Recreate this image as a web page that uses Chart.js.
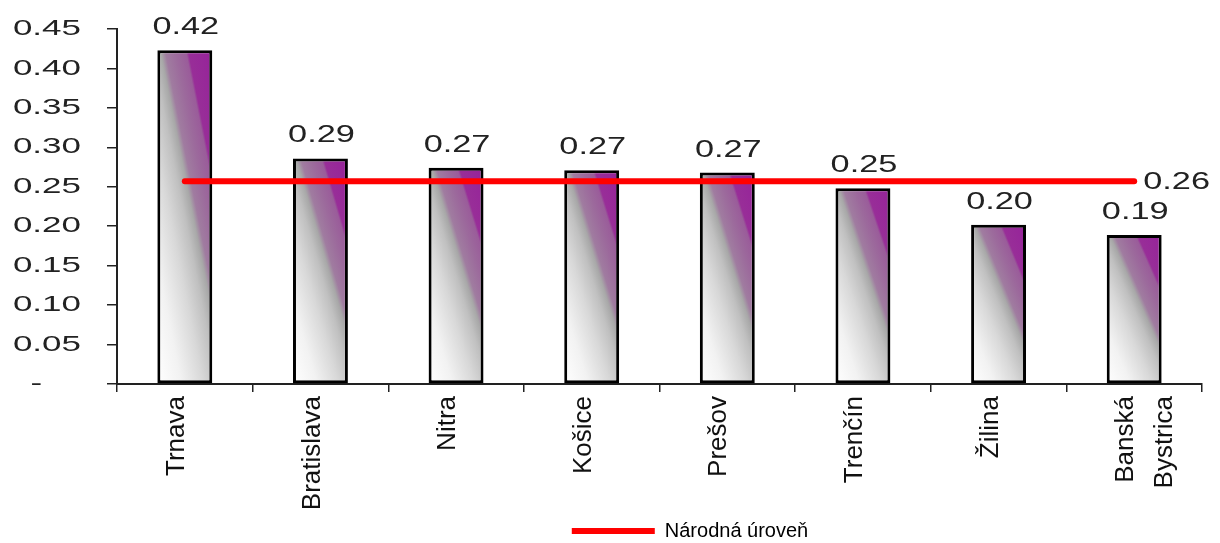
<!DOCTYPE html>
<html lang="sk">
<head>
  <meta charset="UTF-8">
  <title>Kraje a národná úroveň</title>
  <script src="https://cdn.jsdelivr.net/npm/chart.js"></script>
  <style>
    html, body {
      margin: 0;
      padding: 0;
      background: #fff;
    }
    .chart-box {
      width: 1220px;
      height: 543px;
    }
  </style>
</head>
<body>
  <div class="chart-box">
    <canvas id="regionChart" width="1220" height="543"></canvas>
  </div>

  <script>
    // data
    const regions = ['Trnava', 'Bratislava', 'Nitra', 'Košice', 'Prešov', 'Trenčín', 'Žilina', ['Banská', 'Bystrica']];
    const regionValues = [0.423, 0.286, 0.274, 0.271, 0.268, 0.248, 0.202, 0.189];
    const nationalValues = [0.257, 0.257, 0.257, 0.257, 0.257, 0.257, 0.257, 0.257];
    const nationalLabel = 'Národná úroveň';
    const yTickLabels = ['-', '0.05', '0.10', '0.15', '0.20', '0.25', '0.30', '0.35', '0.40', '0.45'];

    const FONT = '"Liberation Sans", Arial, sans-serif';
    const barPct = 0.405;
    const yTickLen = 10;
    const yTickPad = 26;

    // diagonal white -> grey -> purple fill, like the old office gradient
    function barFill(c) {
      const chart = c.chart;
      const xs = chart.scales.x;
      const ys = chart.scales.y;
      if (!chart.chartArea || !xs || !ys || c.dataIndex === undefined) return '#c0c0c0';
      const cx = xs.getPixelForValue(c.dataIndex);
      const w = (xs.width / regions.length) * barPct;
      const top = ys.getPixelForValue(regionValues[c.dataIndex]);
      const base = ys.getPixelForValue(0);
      const h = Math.max(base - top, 1);
      const cy = (top + base) / 2;
      const k = 1.2;
      const ax = 1 / (w * (1 + k));
      const ay = -k / (h * (1 + k));
      const n = ax * ax + ay * ay;
      const vx = ax / n, vy = ay / n;
      const g = chart.ctx.createLinearGradient(cx - vx / 2, cy - vy / 2, cx + vx / 2, cy + vy / 2);
      g.addColorStop(0, '#ffffff');
      g.addColorStop(0.2, '#f2f2f2');
      g.addColorStop(0.38, '#d8d8d8');
      g.addColorStop(0.5, '#c0c0c0');
      g.addColorStop(0.57, '#a8a8a8');
      g.addColorStop(0.61, '#a07ca0');
      g.addColorStop(0.7, '#9c6a9c');
      g.addColorStop(0.78, '#9a5c9a');
      g.addColorStop(0.8, '#982e98');
      g.addColorStop(1, '#96229a');
      return g;
    }

    // text drawn wide, as in the original picture
    function wideText(ctx, text, x, y, sx) {
      ctx.save();
      ctx.translate(x, y);
      ctx.scale(sx, 1);
      ctx.fillText(text, 0, 0);
      ctx.restore();
    }

    // numbers above the bars + value at the end of the red line
    const valueLabels = {
      id: 'valueLabels',
      afterDatasetsDraw(chart) {
        const ctx = chart.ctx;
        ctx.save();
        ctx.font = '24px ' + FONT;
        ctx.fillStyle = '#222';
        ctx.textAlign = 'center';
        ctx.textBaseline = 'alphabetic';
        chart.getDatasetMeta(1).data.forEach((bar, i) => {
          wideText(ctx, regionValues[i].toFixed(2), bar.x + 1, bar.y - 16, 1.43);
        });
        const pts = chart.getDatasetMeta(0).data;
        const last = pts[pts.length - 1];
        ctx.textAlign = 'left';
        ctx.textBaseline = 'middle';
        wideText(ctx, nationalValues[nationalValues.length - 1].toFixed(2), last.x + 9, last.y + 1, 1.43);
        ctx.restore();

        // the y tick labels are drawn in the next layer: stretch them around their right edge
        const ys = chart.scales.y;
        const anchor = ys.right - yTickLen - yTickPad;
        ctx.save();
        ctx.translate(anchor, 0);
        ctx.scale(1.59, 1);
        ctx.translate(-anchor, 0);
      },
      afterDraw(chart) {
        chart.ctx.restore();
      }
    };

    // legend sits right of centre in the original
    const legendShift = {
      id: 'legendShift',
      afterLayout(chart) {
        const l = chart.legend;
        if (!l) return;
        l.left += 89;
        l.right += 89;
        l.top += 8;
        l.bottom += 8;
      }
    };

    const config = {
      type: 'bar',
      data: {
        labels: regions,
        datasets: [
          {
            type: 'line',
            label: nationalLabel,
            data: nationalValues,
            borderColor: '#ff0000',
            backgroundColor: '#ff0000',
            borderWidth: 6,
            borderCapStyle: 'round',
            pointRadius: 0,
            fill: false,
            order: 0
          },
          {
            label: 'Kraje',
            data: regionValues,
            backgroundColor: barFill,
            borderColor: '#000',
            borderWidth: 3,
            borderSkipped: false,
            barPercentage: barPct,
            categoryPercentage: 1,
            order: 1
          }
        ]
      },
      options: {
        responsive: false,
        animation: false,
        layout: {
          padding: { top: 29, right: 18, bottom: 0, left: 0 }
        },
        plugins: {
          tooltip: { enabled: false },
          legend: {
            position: 'bottom',
            labels: {
              boxWidth: 83,
              boxHeight: 6,
              padding: 1,
              color: '#000',
              font: { family: FONT, size: 20 },
              filter: (item) => item.text === nationalLabel,
              generateLabels: (chart) =>
                Chart.defaults.plugins.legend.labels.generateLabels(chart)
                  .map(item => Object.assign(item, { lineWidth: 0 }))
            }
          }
        },
        scales: {
          x: {
            grid: {
              display: true,
              offset: true,
              drawOnChartArea: false,
              tickLength: 8,
              color: '#222',
              lineWidth: 1.5
            },
            border: { display: true, color: '#222', width: 2 },
            ticks: {
              autoSkip: false,
              maxRotation: 90,
              minRotation: 90,
              padding: 4,
              labelOffset: -8,
              color: '#111',
              font: { family: FONT, size: 26, lineHeight: 1.5 }
            },
            afterFit(scale) {
              scale.height = 128;
              scale.paddingTop = 0;
              scale.paddingBottom = 0;
            }
          },
          y: {
            min: 0,
            max: 0.45,
            grid: {
              display: true,
              drawOnChartArea: false,
              tickLength: yTickLen,
              color: '#222',
              lineWidth: 1.5
            },
            border: { display: true, color: '#222', width: 2 },
            ticks: {
              stepSize: 0.05,
              z: 1,
              padding: yTickPad,
              color: '#222',
              font: { family: FONT, size: 22 },
              callback: (value, index) => (index === 0 ? yTickLabels[0] + '    ' : yTickLabels[index])
            },
            afterFit(scale) {
              scale.width = 117;
              scale.paddingTop = 0;
              scale.paddingBottom = 0;
            }
          }
        }
      },
      plugins: [valueLabels, legendShift]
    };

    const regionChart = new Chart(document.getElementById('regionChart'), config);
  </script>
</body>
</html>
